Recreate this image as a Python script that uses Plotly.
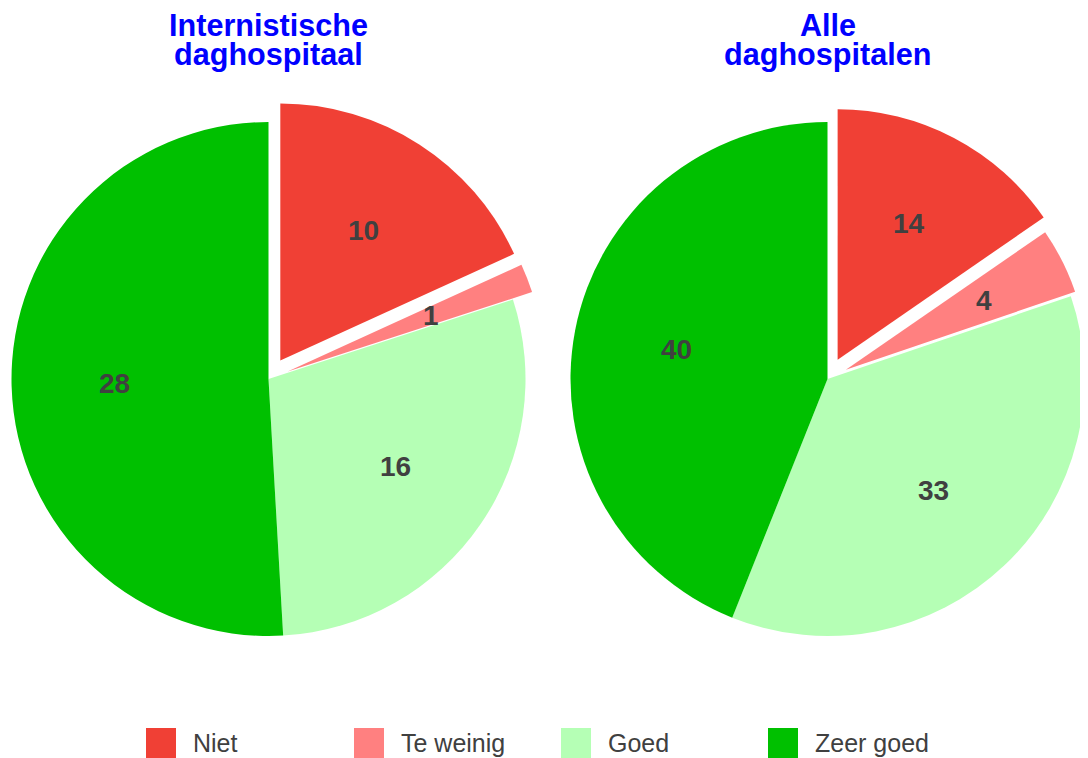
import numpy as np
import plotly.graph_objects as go

# ---------------- data ----------------
categories = ["Niet", "Te weinig", "Goed", "Zeer goed"]
titles = ["Internistische<br>daghospitaal", "Alle<br>daghospitalen"]
values_intern = [10, 1, 16, 28]
values_alle = [14, 4, 33, 40]
colors = ["#F04035", "#FF8080", "#B5FFB5", "#00C000"]
pulls = [0.085, 0.08, 0.0, 0.0]   # exploded slices (fraction of radius)

# ---------------- layout parameters ----------------
OFF = 8                      # page body margin of the html page
SW, SH = 1088, 758           # screen size
W, H = SW - OFF, SH - OFF    # figure size
R = 257
centers = [(268.5, 379), (827.5, 379)]   # screen pixels
TXT = "#404040"
FONT = "Liberation Sans, Arial, sans-serif"


def px(x):
    return (x - OFF) / W


def py(y):
    return (H - (y - OFF)) / H


def domain(cx, cy, r):
    fx, fy = cx - OFF, cy - OFF
    r = min(r, fx, W - fx, fy, H - fy)
    return dict(x=[(fx - r) / W, (fx + r) / W],
                y=[(H - fy - r) / H, (H - fy + r) / H])


fig = go.Figure()
TRANSP = "rgba(0,0,0,0)"

for vals, (cx, cy) in zip([values_intern, values_alle], centers):
    vals = np.array(vals, dtype=float)
    frac = vals / vals.sum()
    ends = np.cumsum(frac) * 2 * np.pi
    starts = ends - frac * 2 * np.pi
    mids = (starts + ends) / 2
    main_cols = [c if p == 0 else TRANSP for c, p in zip(colors, pulls)]
    traces = [(cx, cy, main_cols)]
    for i, p in enumerate(pulls):
        if p == 0:
            continue
        dx = p * R * np.sin(mids[i])
        dy = -p * R * np.cos(mids[i])
        cols = [colors[j] if j == i else TRANSP for j in range(len(vals))]
        traces.append((cx + dx, cy + dy, cols))
    for (tx, ty, cols) in traces:
        fig.add_trace(go.Pie(
            labels=categories, values=vals, sort=False, direction="clockwise",
            rotation=0, domain=domain(tx, ty, R),
            marker=dict(colors=cols, line=dict(width=0)),
            textinfo="none", showlegend=False, hoverinfo="skip",
        ))
    # value labels at 0.6 R along each slice bisector
    for i, v in enumerate(vals):
        ax = cx + pulls[i] * R * np.sin(mids[i]) + 0.6 * R * np.sin(mids[i])
        ay = cy - pulls[i] * R * np.cos(mids[i]) - 0.6 * R * np.cos(mids[i])
        fig.add_annotation(
            x=px(ax), y=py(ay), xref="paper", yref="paper", text=f"<b>{int(v)}</b>",
            showarrow=False, xanchor="center", yanchor="middle",
            font=dict(size=28, color=TXT, family=FONT),
        )

# titles
for t, (cx, cy) in zip(titles, centers):
    for k, line in enumerate(t.split("<br>")):
        fig.add_annotation(
            x=px(cx), y=py(25 + 29 * k), xref="paper", yref="paper",
            text=f"<b>{line}</b>", showarrow=False, xanchor="center", yanchor="middle",
            font=dict(size=30.6, color="#0000FF", family=FONT),
        )

# legend (manual, large square markers)
leg_x = [146, 354, 561, 768]
for name, col, lx in zip(categories, colors, leg_x):
    fig.add_shape(type="rect", xref="paper", yref="paper",
                  x0=px(lx), x1=px(lx + 30), y0=py(758), y1=py(728),
                  fillcolor=col, line=dict(width=0))
    fig.add_annotation(
        x=px(lx + 45), y=py(743), xref="paper", yref="paper",
        text=name, showarrow=False, xanchor="left", yanchor="middle",
        font=dict(size=25, color=TXT, family=FONT),
    )

fig.update_layout(
    width=W, height=H, margin=dict(l=0, r=0, t=0, b=0),
    paper_bgcolor="white", plot_bgcolor="white",
)

fig.write_html("out.html")
